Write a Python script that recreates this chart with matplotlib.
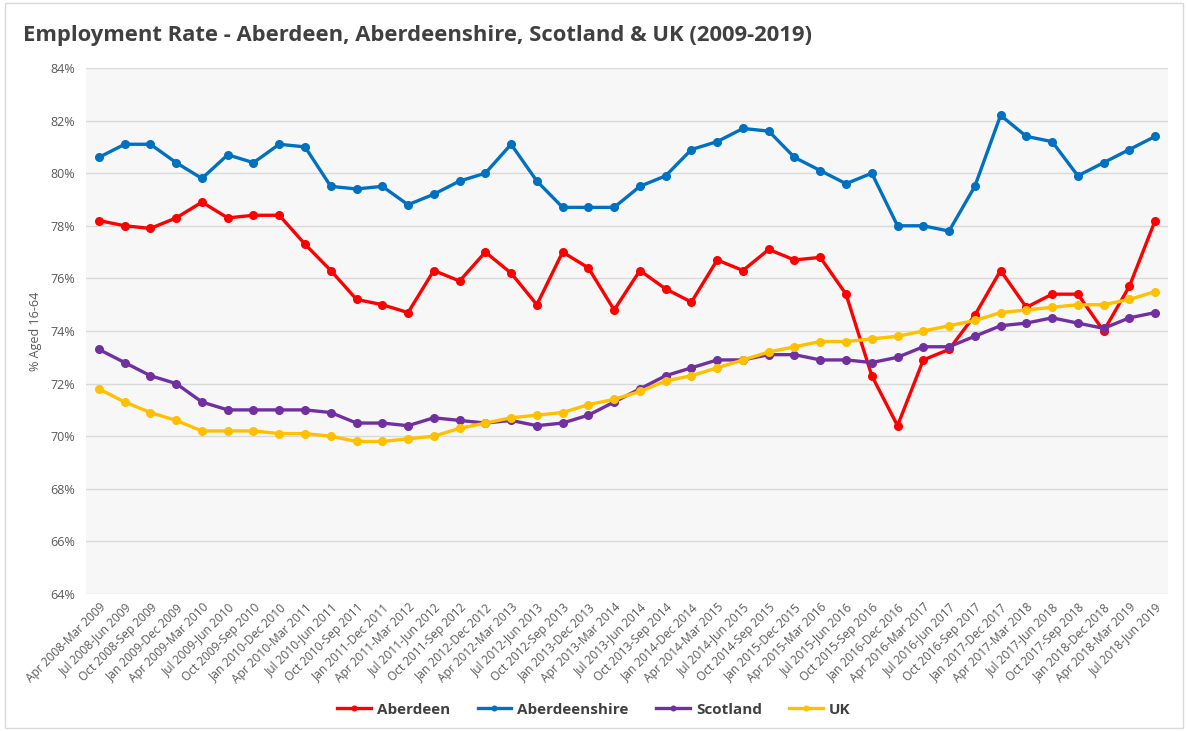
import matplotlib.pyplot as plt
from matplotlib.patches import Rectangle
from matplotlib.ticker import FuncFormatter

# quarterly rolling annual periods
periods = [
    "Apr 2008-Mar 2009", "Jul 2008-Jun 2009", "Oct 2008-Sep 2009", "Jan 2009-Dec 2009",
    "Apr 2009-Mar 2010", "Jul 2009-Jun 2010", "Oct 2009-Sep 2010", "Jan 2010-Dec 2010",
    "Apr 2010-Mar 2011", "Jul 2010-Jun 2011", "Oct 2010-Sep 2011", "Jan 2011-Dec 2011",
    "Apr 2011-Mar 2012", "Jul 2011-Jun 2012", "Oct 2011-Sep 2012", "Jan 2012-Dec 2012",
    "Apr 2012-Mar 2013", "Jul 2012-Jun 2013", "Oct 2012-Sep 2013", "Jan 2013-Dec 2013",
    "Apr 2013-Mar 2014", "Jul 2013-Jun 2014", "Oct 2013-Sep 2014", "Jan 2014-Dec 2014",
    "Apr 2014-Mar 2015", "Jul 2014-Jun 2015", "Oct 2014-Sep 2015", "Jan 2015-Dec 2015",
    "Apr 2015-Mar 2016", "Jul 2015-Jun 2016", "Oct 2015-Sep 2016", "Jan 2016-Dec 2016",
    "Apr 2016-Mar 2017", "Jul 2016-Jun 2017", "Oct 2016-Sep 2017", "Jan 2017-Dec 2017",
    "Apr 2017-Mar 2018", "Jul 2017-Jun 2018", "Oct 2017-Sep 2018", "Jan 2018-Dec 2018",
    "Apr 2018-Mar 2019", "Jul 2018-Jun 2019",
]

aberdeen = [78.2, 78.0, 77.9, 78.3, 78.9, 78.3, 78.4, 78.4, 77.3, 76.3, 75.2, 75.0, 74.7, 76.3,
            75.9, 77.0, 76.2, 75.0, 77.0, 76.4, 74.8, 76.3, 75.6, 75.1, 76.7, 76.3, 77.1, 76.7,
            76.8, 75.4, 72.3, 70.4, 72.9, 73.3, 74.6, 76.3, 74.9, 75.4, 75.4, 74.0, 75.7, 78.2]
aberdeenshire = [80.6, 81.1, 81.1, 80.4, 79.8, 80.7, 80.4, 81.1, 81.0, 79.5, 79.4, 79.5, 78.8, 79.2,
                 79.7, 80.0, 81.1, 79.7, 78.7, 78.7, 78.7, 79.5, 79.9, 80.9, 81.2, 81.7, 81.6, 80.6,
                 80.1, 79.6, 80.0, 78.0, 78.0, 77.8, 79.5, 82.2, 81.4, 81.2, 79.9, 80.4, 80.9, 81.4]
scotland = [73.3, 72.8, 72.3, 72.0, 71.3, 71.0, 71.0, 71.0, 71.0, 70.9, 70.5, 70.5, 70.4, 70.7,
            70.6, 70.5, 70.6, 70.4, 70.5, 70.8, 71.3, 71.8, 72.3, 72.6, 72.9, 72.9, 73.1, 73.1,
            72.9, 72.9, 72.8, 73.0, 73.4, 73.4, 73.8, 74.2, 74.3, 74.5, 74.3, 74.1, 74.5, 74.7]
uk = [71.8, 71.3, 70.9, 70.6, 70.2, 70.2, 70.2, 70.1, 70.1, 70.0, 69.8, 69.8, 69.9, 70.0,
      70.3, 70.5, 70.7, 70.8, 70.9, 71.2, 71.4, 71.7, 72.1, 72.3, 72.6, 72.9, 73.2, 73.4,
      73.6, 73.6, 73.7, 73.8, 74.0, 74.2, 74.4, 74.7, 74.8, 74.9, 75.0, 75.0, 75.2, 75.5]

plt.rcParams['font.family'] = ['Open Sans', 'DejaVu Sans']

fig = plt.figure(figsize=(11.88, 7.31), dpi=100)
# thin frame round the chart
fig.patches.append(Rectangle((0.004, 0.004), 0.992, 0.992, transform=fig.transFigure,
                             fill=False, edgecolor='#d9d9d9', linewidth=1))

ax = fig.add_axes([0.0724, 0.1874, 0.9108, 0.7196])
ax.set_facecolor('#f7f7f7')

x = list(range(len(periods)))
series = [("Aberdeen", aberdeen, '#ff0000'),
          ("Aberdeenshire", aberdeenshire, '#0070c0'),
          ("Scotland", scotland, '#7030a0'),
          ("UK", uk, '#ffc000')]
for name, vals, col in series:
    ax.plot(x, vals, color=col, lw=2.4, marker='o', ms=5.5, label=name, zorder=3)

ax.set_xlim(-0.5, len(periods) - 0.5)
ax.set_ylim(64, 84)
ax.set_yticks(range(64, 85, 2))
ax.yaxis.set_major_formatter(FuncFormatter(lambda v, p: f"{v:.0f}%"))
ax.grid(axis='y', color='#d9d9d9', lw=1, zorder=0)
ax.set_axisbelow(True)
for s in ax.spines.values():
    s.set_visible(False)
ax.tick_params(length=0, colors='#595959', labelsize=9)
ax.tick_params(axis='y', pad=8)
ax.tick_params(axis='x', pad=5)

ax.set_xticks(x)
ax.set_xticklabels(periods, rotation=45, ha='right', rotation_mode='anchor', fontsize=8.6)

ax.set_ylabel("% Aged 16-64", color='#595959', fontsize=9, labelpad=6)

fig.text(0.019, 0.952, "Employment Rate - Aberdeen, Aberdeenshire, Scotland & UK (2009-2019)",
         fontsize=15.8, fontweight='bold', color='#404040', va='center')

leg = fig.legend(loc='center', bbox_to_anchor=(0.5, 0.029), ncol=4, frameon=False,
                 prop={'weight': 'bold', 'size': 11}, handlelength=2.2, handletextpad=0.4,
                 columnspacing=1.8, markerscale=0.6)
for t in leg.get_texts():
    t.set_color('#404040')

fig.savefig("out.png", dpi=100)
